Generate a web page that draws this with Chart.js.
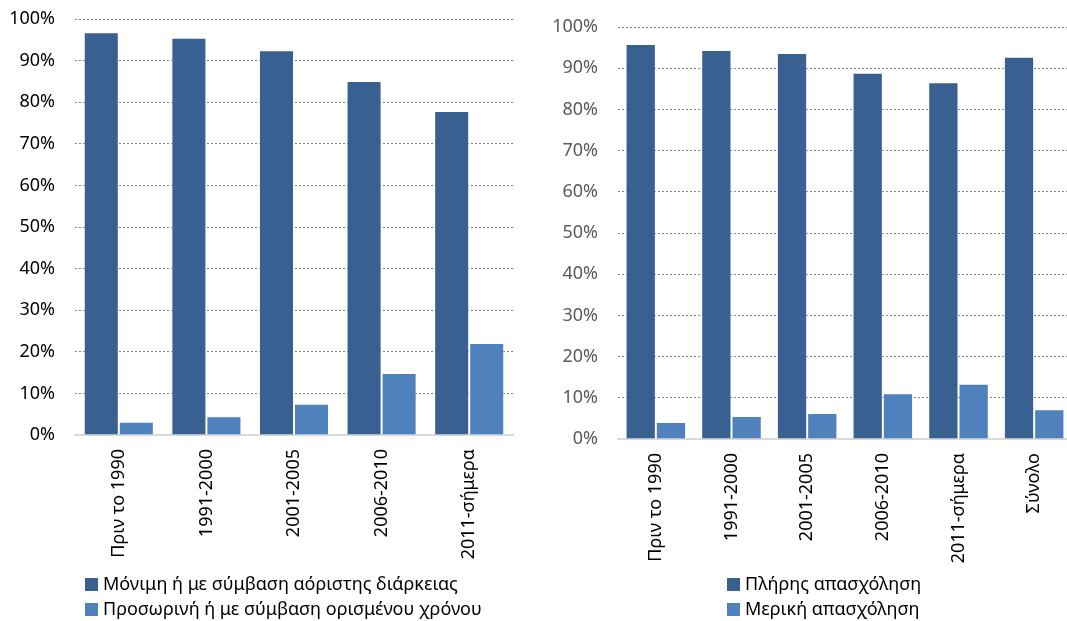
<!DOCTYPE html>
<html>
<head>
<meta charset="utf-8">
<script src="https://cdn.jsdelivr.net/npm/chart.js@4/dist/chart.umd.min.js"></script>
<style>
  body { margin: 0; width: 1067px; height: 621px; overflow: hidden; position: relative; background: #fff; font-family: "Noto Sans", sans-serif; }
  .box { position: absolute; }
  .legend { position: absolute; font-size: 18px; color: #000; line-height: 25px; }
  .legend div { white-space: nowrap; }
  .legend span { display: inline-block; width: 13px; height: 13px; margin-right: 5px; vertical-align: -1px; }
</style>
</head>
<body>
<div class="box" style="left:0;top:0;width:533px;height:575px"><canvas id="left"></canvas></div>
<div class="box" style="left:533px;top:0;width:545px;height:580px"><canvas id="right"></canvas></div>
<div class="legend" id="legLeft" style="left:85px;top:571px"></div>
<div class="legend" id="legRight" style="left:727px;top:571px"></div>
<script>
// κατηγορίες
const periods = ['Πριν το 1990', '1991-2000', '2001-2005', '2006-2010', '2011-σήμερα'];
const periodsTotal = ['Πριν το 1990', '1991-2000', '2001-2005', '2006-2010', '2011-σήμερα', 'Σύνολο'];

// αριστερό διάγραμμα: είδος σύμβασης (%)
const permanent = [96.8, 95.5, 92.5, 85.1, 77.9];
const temporary = [3.2, 4.5, 7.5, 14.9, 22.1];

// δεξί διάγραμμα: είδος απασχόλησης (%)
const fullTime = [95.9, 94.4, 93.7, 88.9, 86.6, 92.8];
const partTime = [4.1, 5.6, 6.3, 11.1, 13.4, 7.2];

const darkBlue = '#386090';
const lightBlue = '#4f81bd';

function makeChart(id, labels, series, tickColor, yWidth, pad, xHeight) {
    const ctx = document.getElementById(id).getContext('2d');
    return new Chart(ctx, {
        type: 'bar',
        data: {
            labels: labels,
            datasets: series.map(s => ({
                label: s.label,
                data: s.data,
                backgroundColor: s.color,
                borderColor: 'rgba(255,255,255,0.45)',
                borderWidth: 1,
                categoryPercentage: 0.8,
                barPercentage: 1.0
            }))
        },
        options: {
            responsive: true,
            maintainAspectRatio: false,
            animation: false,
            layout: { padding: pad },
            plugins: { legend: { display: false }, tooltip: { enabled: false } },
            scales: {
                x: {
                    grid: { display: false },
                    border: { color: '#d9d9d9', width: 2 },
                    ticks: {
                        color: '#000',
                        font: { family: 'Noto Sans', size: 18 },
                        minRotation: 90,
                        maxRotation: 90,
                        padding: 6
                    },
                    afterFit: function (scale) { scale.height = xHeight; }
                },
                y: {
                    min: 0,
                    max: 100,
                    grid: { color: '#868686', drawTicks: false },
                    border: { display: false, dash: [2, 2] },
                    ticks: {
                        stepSize: 10,
                        color: tickColor,
                        padding: 20,
                        font: { family: 'Noto Sans', size: 18 },
                        callback: function (v) { return v + '%'; }
                    },
                    afterFit: function (scale) {
                        scale.width = yWidth;
                        // η θέση του γραφήματος ορίζεται από το layout padding
                        scale.paddingTop = 0;
                        scale.paddingBottom = 0;
                    }
                }
            }
        }
    });
}

const leftSeries = [
    { label: 'Μόνιμη ή με σύμβαση αόριστης διάρκειας', data: permanent, color: darkBlue },
    { label: 'Προσωρινή ή με σύμβαση ορισμένου χρόνου', data: temporary, color: lightBlue }
];
const rightSeries = [
    { label: 'Πλήρης απασχόληση', data: fullTime, color: darkBlue },
    { label: 'Μερική απασχόληση', data: partTime, color: lightBlue }
];

makeChart('left', periods, leftSeries, '#000', 75, { top: 19, right: 20, bottom: 0, left: 0 }, 140);
makeChart('right', periodsTotal, rightSeries, '#595959', 85, { top: 27, right: 6, bottom: 0, left: 0 }, 141);

function buildLegend(el, series) {
    series.forEach(s => {
        const row = document.createElement('div');
        const sw = document.createElement('span');
        sw.style.background = s.color;
        row.appendChild(sw);
        row.appendChild(document.createTextNode(s.label));
        el.appendChild(row);
    });
}
buildLegend(document.getElementById('legLeft'), leftSeries);
buildLegend(document.getElementById('legRight'), rightSeries);
</script>
</body>
</html>
